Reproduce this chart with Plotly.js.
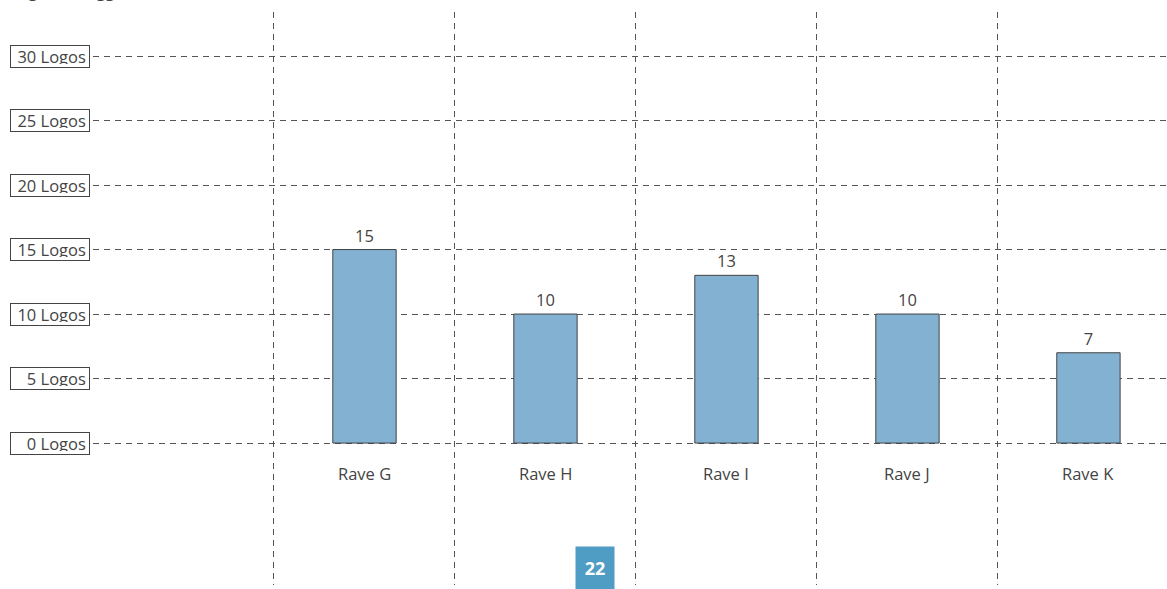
<!DOCTYPE html>
<html>
<head>
<meta charset="utf-8">
<script src="https://cdn.plot.ly/plotly-3.0.1.min.js"></script>
<style>html,body{margin:0;padding:0;background:#fff;overflow:hidden}</style>
</head>
<body>
<div id="chart" style="width:1167px;height:589px"></div>
<script>
var categories = ["Rave G", "Rave H", "Rave I", "Rave J", "Rave K"];
var values = [15, 10, 13, 10, 7];
var yTickValues = [0, 5, 10, 15, 20, 25, 30];
var yTickLabels = ["0 Logos", "5 Logos", "10 Logos", "15 Logos", "20 Logos", "25 Logos", "30 Logos"];
var boundaryValues = [-0.5, 0.5, 1.5, 2.5, 3.5, 4.5];
var subtitle = "(Logos in Logg)";
var pageNumber = "22";

var FONT = "Open Sans, Noto Sans, sans-serif";
var TXT = "#444";

var annotations = [];
yTickValues.forEach(function (v, i) {
  annotations.push({
    xref: "paper", yref: "y", x: 0, y: v,
    xanchor: "right", yanchor: "middle", xshift: -3,
    text: yTickLabels[i], showarrow: false, align: "right",
    width: 72, height: 15, borderpad: 3, borderwidth: 1,
    bordercolor: "#444", bgcolor: "#fff",
    font: {family: FONT, size: 16.5, color: TXT}
  });
});
categories.forEach(function (c) {
  annotations.push({
    xref: "x", yref: "y", x: c, y: 0,
    yanchor: "middle", yshift: -30,
    text: c, showarrow: false,
    font: {family: FONT, size: 16.5, color: TXT}
  });
});
annotations.push({
  xref: "paper", yref: "paper", x: -0.0838, y: 1,
  xanchor: "left", yanchor: "bottom", yshift: 8,
  text: subtitle, showarrow: false,
  font: {family: FONT, size: 16.5, color: TXT}
});
annotations.push({
  xref: "paper", yref: "paper", x: 0.4674, y: 0.0297,
  xanchor: "center", yanchor: "middle",
  text: "<b>" + pageNumber + "</b>", showarrow: false,
  width: 30, height: 34, borderpad: 4, bgcolor: "#4f9cc4",
  font: {family: FONT, size: 18, color: "#fff"}
});

var trace = {
  type: "bar",
  x: categories,
  y: values,
  width: 0.35,
  marker: {color: "#82b1d2", line: {color: "#444", width: 1}},
  text: values.map(String),
  textposition: "outside",
  cliponaxis: false,
  textfont: {family: FONT, size: 16.5, color: TXT},
  hoverinfo: "skip"
};

var layout = {
  width: 1167, height: 589,
  margin: {l: 93, r: 0, t: 12, b: 4},
  paper_bgcolor: "#fff", plot_bgcolor: "#fff",
  showlegend: false,
  xaxis: {
    type: "category",
    range: [-1.5, 4.434],
    tickmode: "array", tickvals: boundaryValues, ticktext: boundaryValues.map(function(){return "";}),
    showticklabels: false, ticks: "",
    showgrid: true, gridcolor: "#555", gridwidth: 1, griddash: "6px,5px",
    zeroline: false, showline: false, fixedrange: true
  },
  yaxis: {
    range: [-11.0, 33.41],
    tickmode: "array", tickvals: yTickValues,
    showticklabels: false, ticks: "",
    showgrid: true, gridcolor: "#555", gridwidth: 1, griddash: "6px,5px",
    zeroline: false, showline: false, fixedrange: true
  },
  annotations: annotations,
  font: {family: FONT, color: TXT}
};

Plotly.newPlot("chart", [trace], layout, {displayModeBar: false, staticPlot: true});
</script>
</body>
</html>
